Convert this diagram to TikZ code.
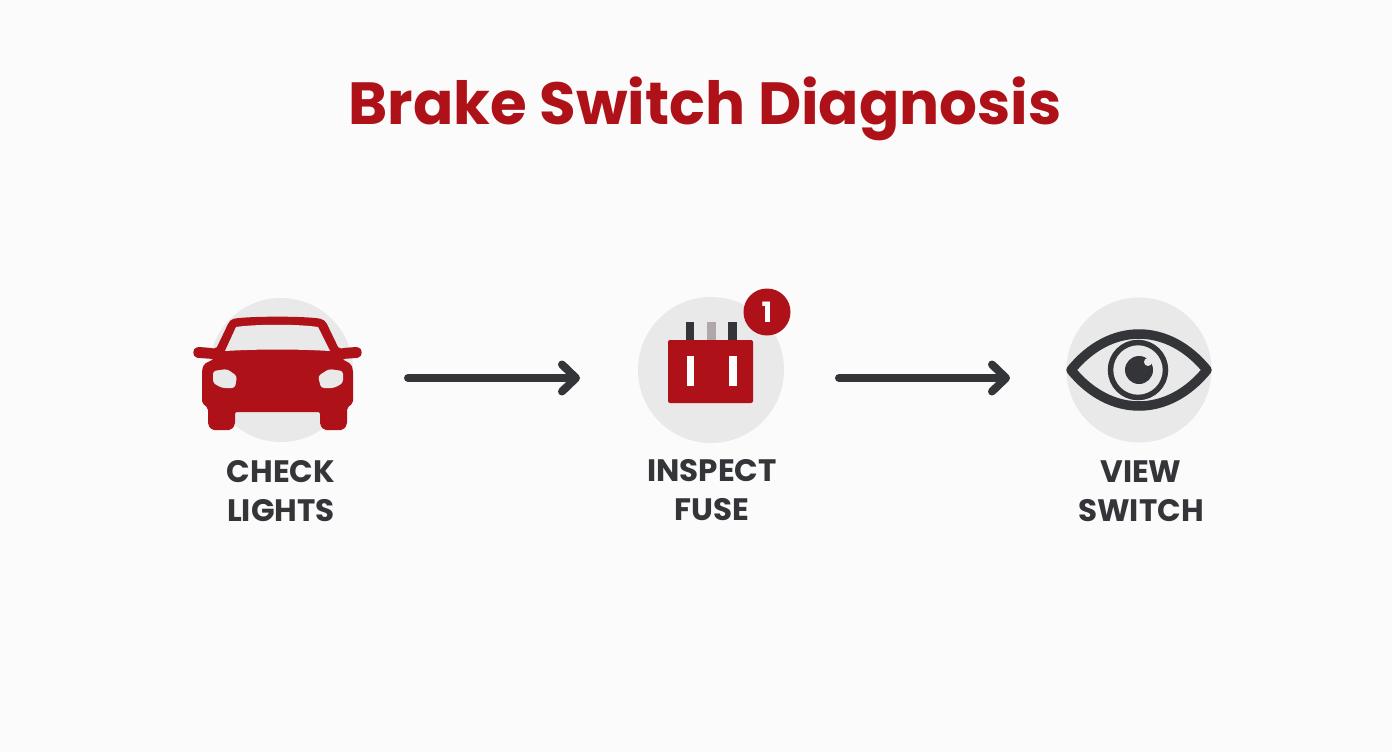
\documentclass[tikz,border=0pt]{standalone}
\usepackage{fontspec}
\setmainfont{Poppins}
\usetikzlibrary{arrows.meta}
\definecolor{bgc}{HTML}{FBFBFB}
\definecolor{disc}{HTML}{E9E9E9}
\definecolor{brake}{HTML}{AE1118}
\definecolor{ink}{HTML}{333538}
\definecolor{pincol}{HTML}{B0A8A8}
\tikzset{
  x=1pt,y=-1pt,
  disk/.style={circle,fill=disc,draw=none,minimum size=#1,inner sep=0pt},
  titletext/.style={text=brake,font=\bfseries\fontsize{59.5}{66}\selectfont,inner sep=0pt},
  steplabel/.style={text=ink,font=\bfseries\fontsize{31}{39}\selectfont,align=center,inner sep=0pt},
  flow/.style={draw=ink,line width=8pt,line cap=round,line join=round,-{Straight Barb[length=14pt,width=27pt,round]}},
  eyeline/.style={draw=ink,line width=9.5pt,line join=round},
}
\begin{document}
\begin{tikzpicture}
\useasboundingbox (0,0) rectangle (1392,752);
\fill[bgc] (0,0) rectangle (1392,752);
\node[titletext] (title) at (705,109) {Brake Switch Diagnosis};
\node[disk=144pt] (d1) at (281,370) {};
\node[disk=146pt] (d2) at (711,370) {};
\node[disk=145pt] (d3) at (1139,370) {};
% car
\fill[brake,rounded corners=2pt] (232,319) .. controls (250,316) and (305,316) .. (322,319)
  -- (326,322) -- (339,349) -- (343,348) -- (356,347) .. controls (363,348) and (363,357) .. (356,358)
  -- (342,359) -- (351,364) -- (353,370) -- (353,403) -- (347,408) -- (347,425) -- (343,430)
  -- (324,430) -- (320,425) -- (320,412) -- (235,412) -- (235,425) -- (231,430)
  -- (212,430) -- (208,425) -- (208,408) -- (202,403) -- (202,370) -- (204,364) -- (214,359)
  -- (199,358) .. controls (192,357) and (192,348) .. (199,347) -- (212,348) -- (216,349)
  -- (229,322) -- cycle;
\fill[disc] (225,351) -- (236,327) .. controls (255,324) and (300,324) .. (318,327) -- (330,351) .. controls (295,349) and (260,349) .. (225,351) -- cycle;
\fill[disc,rounded corners=3pt] (213,371) -- (227,369) -- (237,376) -- (235,388) -- (222,388) -- (213,383) -- cycle;
\fill[disc,rounded corners=3pt] (343,371) -- (329,369) -- (318,376) -- (321,388) -- (334,388) -- (343,383) -- cycle;
% fuse
\fill[ink] (686,322) rectangle (694,341);
\fill[pincol] (707,322) rectangle (716,341);
\fill[ink] (728,322) rectangle (737,341);
\fill[brake,rounded corners=2pt] (668,340) rectangle (753,403);
\fill[white] (687,356) rectangle (694,386);
\fill[white] (729,356) rectangle (737,386);
\node[circle,fill=brake,minimum size=47pt,inner sep=0pt,text=white,font=\bfseries\fontsize{28}{28}\selectfont] (badge) at (767,312) {1};
% eye
\draw[eyeline] (1071,370) .. controls (1110,322) and (1168,322) .. (1207,370) .. controls (1168,418) and (1110,418) .. cycle;
\draw[ink,line width=5.5pt] (1138,370) circle (27.5);
\fill[ink] (1139,370) circle (14);
\fill[disc] (1148,362) circle (4);
% labels
\node[steplabel] (l1) at (281,491) {CHECK\\LIGHTS};
\node[steplabel] (l2) at (712,490) {INSPECT\\FUSE};
\node[steplabel] (l3) at (1141,491) {VIEW\\SWITCH};
% connectors
\coordinate (a1s) at (408,378);
\coordinate (a1e) at (580,378);
\coordinate (a2s) at (839,378);
\coordinate (a2e) at (1010,378);
\draw[flow] (a1s) -- (a1e);
\draw[flow] (a2s) -- (a2e);
\end{tikzpicture}
\end{document}
